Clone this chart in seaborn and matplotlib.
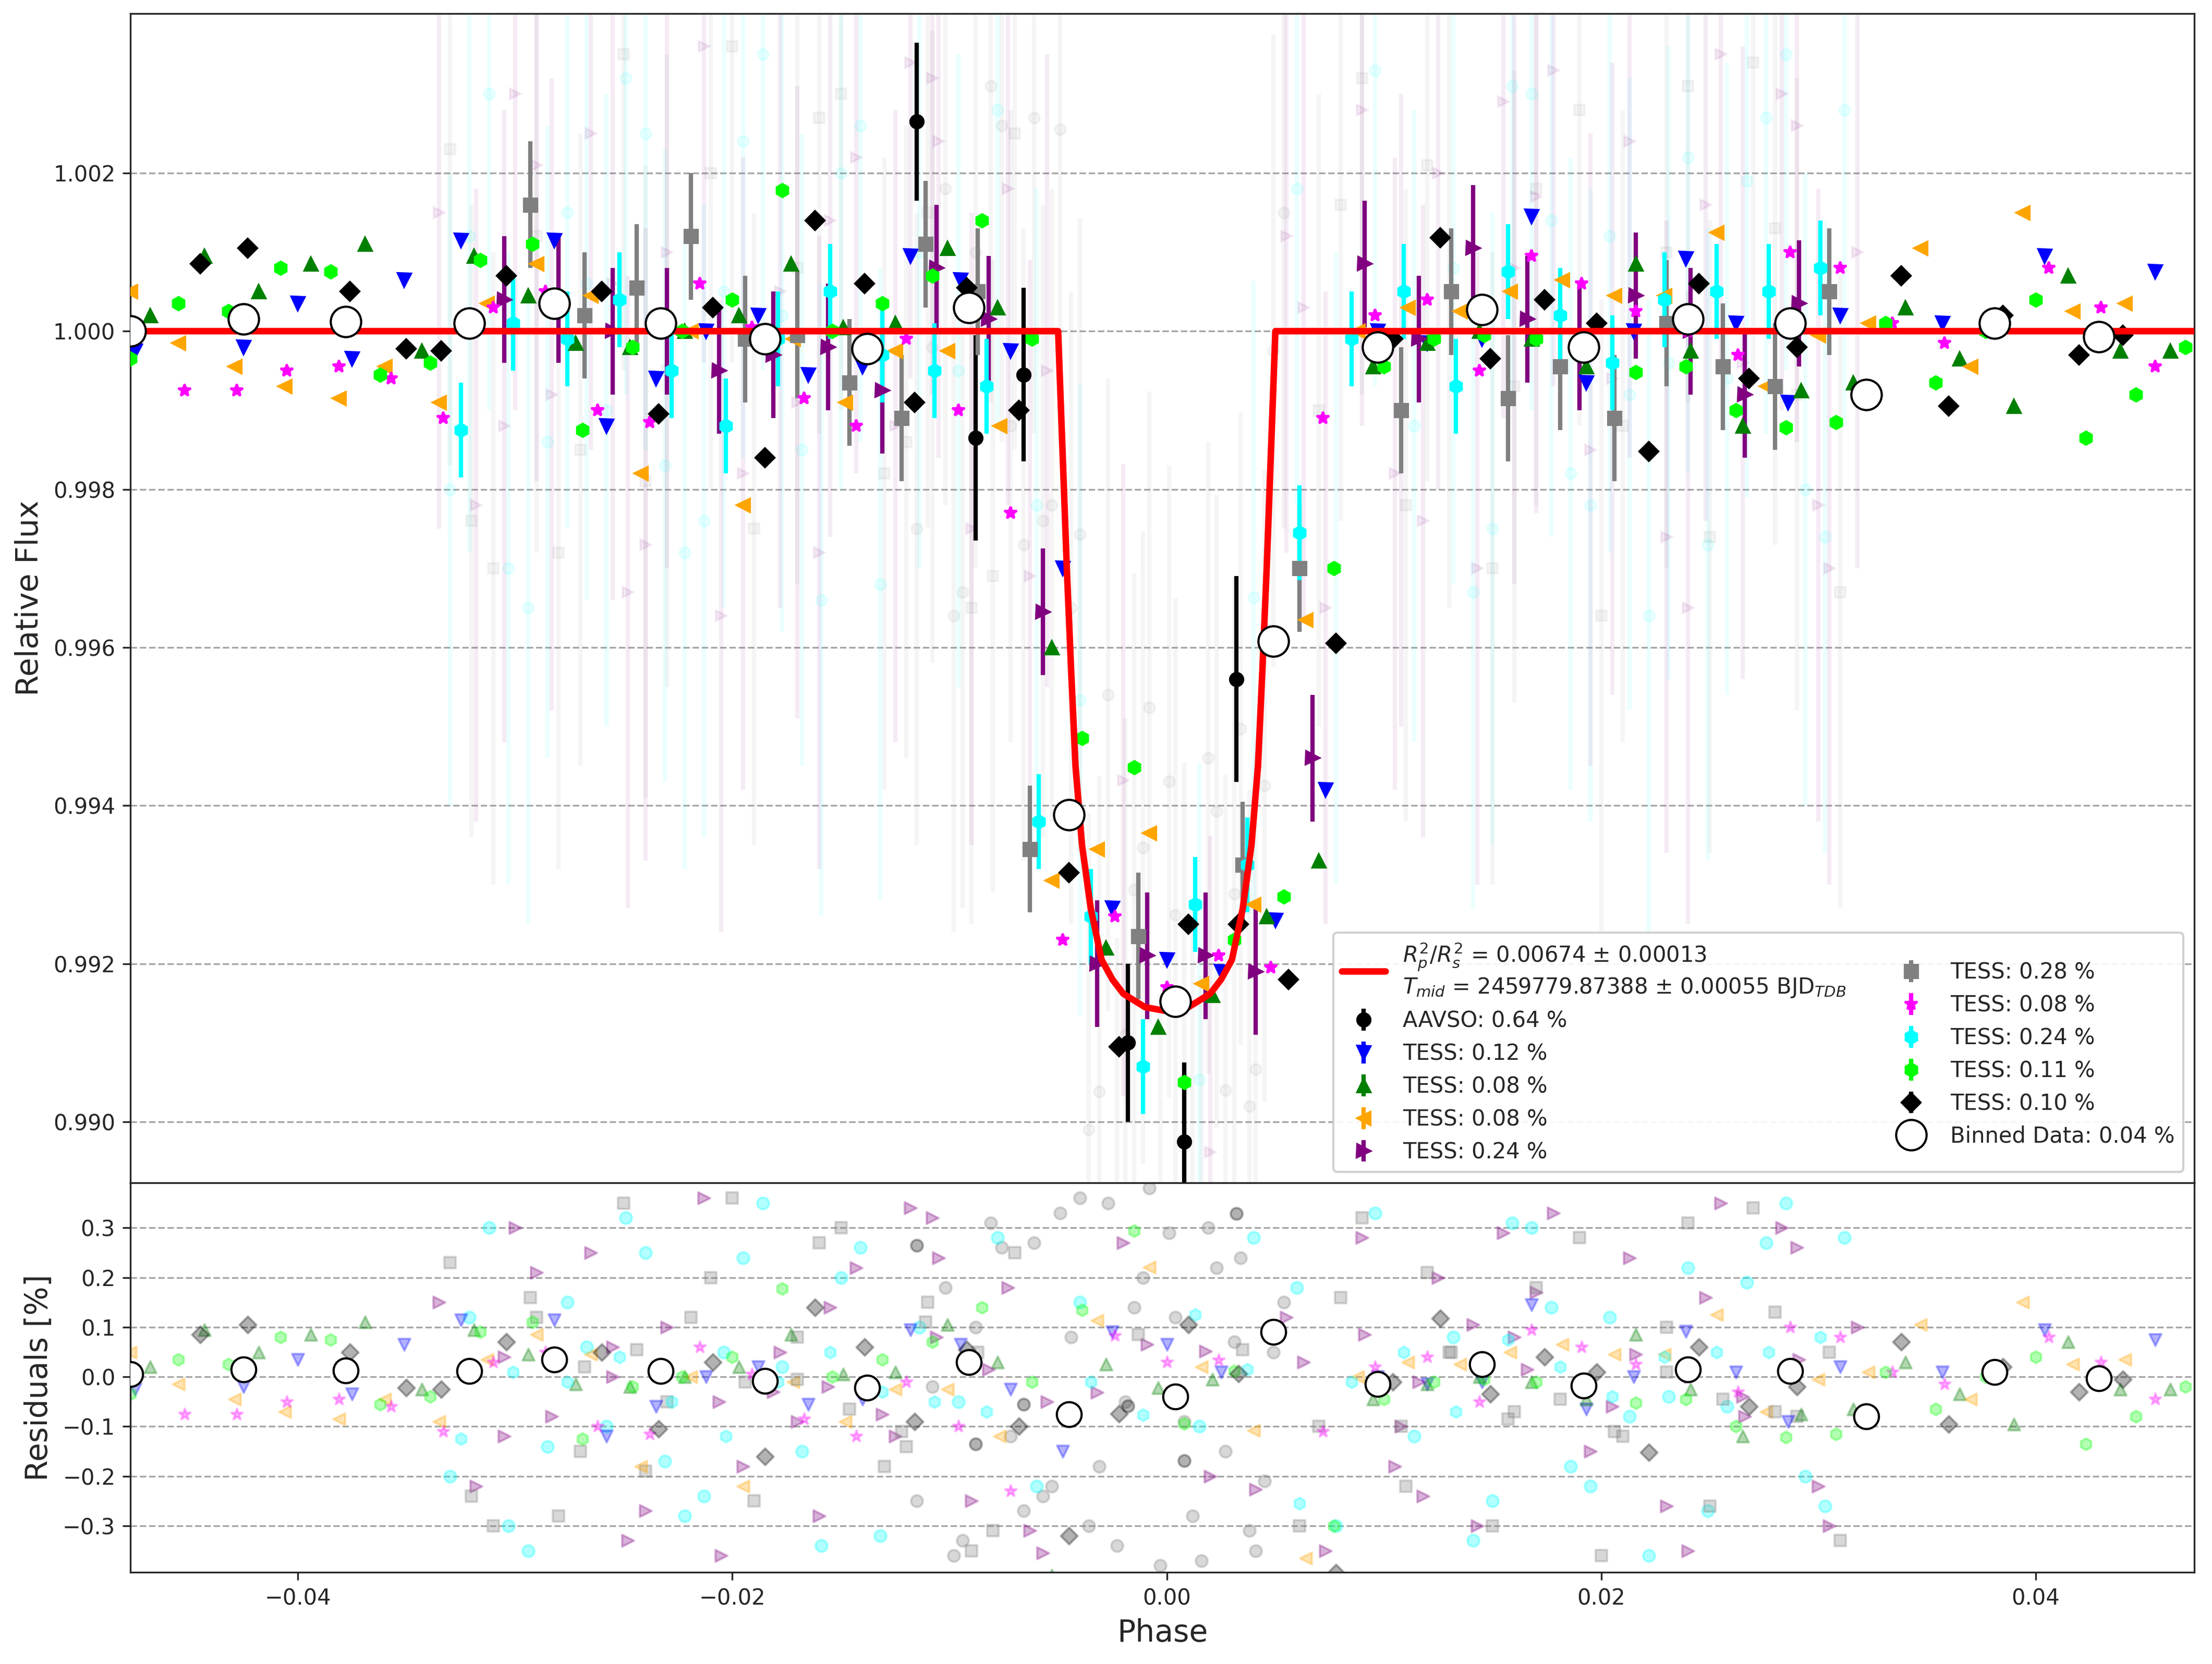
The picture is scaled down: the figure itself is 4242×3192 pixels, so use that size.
import numpy as np
import pandas as pd
import matplotlib.pyplot as plt
import seaborn as sns

# transit model
model_phase = [-0.048, -0.0050, -0.0048, -0.0046, -0.0044, -0.0042, -0.0039, -0.0035,
               -0.0030, -0.0025, -0.0020, -0.0010, 0.0, 0.0010, 0.0020, 0.0025, 0.0030,
               0.0035, 0.0039, 0.0042, 0.0044, 0.0046, 0.0048, 0.0050, 0.048]
model_flux = [1.0, 1.0, 0.9985, 0.9970, 0.9957, 0.9945, 0.9935, 0.9927,
              0.99205, 0.9918, 0.99162, 0.99145, 0.9914, 0.99145, 0.99162, 0.9918, 0.99205,
              0.9927, 0.9935, 0.9945, 0.9957, 0.9970, 0.9985, 1.0, 1.0]

binned_x = [-0.0477, -0.0425, -0.0378, -0.0321, -0.0282, -0.0233, -0.0185, -0.0138, -0.0091, -0.0045,
            0.0004, 0.0049, 0.0097, 0.0145, 0.0192, 0.0240, 0.0287, 0.0322, 0.0381, 0.0429]
binned_y = [1.0000, 1.00015, 1.00012, 1.0001, 1.00035, 1.0001, 0.9999, 0.99978, 1.0003, 0.99388,
            0.99152, 0.99608, 0.9998, 1.00027, 0.9998, 1.00015, 1.0001, 0.9992, 1.0001, 0.99993]
binned_res = [0.005, 0.015, 0.013, 0.012, 0.035, 0.012, -0.008, -0.022, 0.030, -0.075,
              -0.040, 0.090, -0.015, 0.025, -0.018, 0.015, 0.012, -0.080, 0.010, -0.003]

aavso_x = [-0.0115, -0.0088, -0.0066, -0.0018, 0.0008, 0.0032]
aavso_y = [1.00265, 0.99865, 0.99945, 0.9910, 0.98975, 0.9956]
aavso_e = [0.0010, 0.0013, 0.0011, 0.0010, 0.0010, 0.0013]

blue_x = [-0.0475, -0.0425, -0.0400, -0.0375, -0.0351, -0.0325, -0.0282, -0.0258, -0.0235, -0.0212,
          -0.0188, -0.0165, -0.0140, -0.0118, -0.0095, -0.0072, -0.0048, -0.0025, 0.0, 0.0025,
          0.0050, 0.0073, 0.0097, 0.0120, 0.0145, 0.0168, 0.0193, 0.0215, 0.0239, 0.0262,
          0.0286, 0.0310, 0.0357, 0.0404, 0.0455]
blue_y = [0.99975, 0.9998, 1.00035, 0.99965, 1.00065, 1.00115, 1.00115, 0.9988, 0.9994, 1.0,
          1.0002, 0.99945, 0.99955, 1.00095, 1.00065, 0.99975, 0.9970, 0.9927, 0.99205, 0.9919,
          0.99255, 0.9942, 1.0, 0.99985, 0.9999, 1.00145, 0.99935, 1.0, 1.00092, 1.0001,
          0.9991, 1.0002, 1.0001, 1.00095, 1.00075]

green_x = [-0.0468, -0.0443, -0.0418, -0.0394, -0.0369, -0.0343, -0.0319, -0.0294, -0.0272, -0.0247,
           -0.0222, -0.0197, -0.0173, -0.0149, -0.0125, -0.0101, -0.0078, -0.0053, -0.0028, -0.0004,
           0.0021, 0.0046, 0.0070, 0.0095, 0.0120, 0.0144, 0.0168, 0.0193, 0.0216, 0.0241,
           0.0265, 0.0292, 0.0316, 0.0340, 0.0365, 0.0390, 0.0415, 0.0439, 0.0462]
green_y = [1.0002, 1.00095, 1.0005, 1.00085, 1.0011, 0.99975, 1.00095, 1.00045, 0.99985, 0.9998,
           1.0, 1.0002, 1.00085, 1.00005, 1.0001, 1.00105, 1.0003, 0.9960, 0.9922, 0.9912,
           0.9916, 0.9926, 0.9933, 0.99955, 0.99985, 1.0, 0.9999, 0.99955, 1.00085, 0.99975,
           0.9988, 0.99925, 0.99935, 1.0003, 0.99965, 0.99905, 1.0007, 0.99975, 0.99975]

orange_x = [-0.0477, -0.0455, -0.0429, -0.0406, -0.0381, -0.0360, -0.0335, -0.0313, -0.0290, -0.0265,
            -0.0242, -0.0219, -0.0195, -0.0172, -0.0148, -0.0125, -0.0101, -0.0077, -0.0053, -0.0032,
            -0.0008, 0.0016, 0.0040, 0.0064, 0.0088, 0.0111, 0.0135, 0.0158, 0.0182, 0.0206,
            0.0229, 0.0253, 0.0276, 0.0300, 0.0323, 0.0347, 0.0370, 0.0394, 0.0417, 0.0441]
orange_y = [1.0005, 0.99985, 0.99955, 0.9993, 0.99915, 0.99955, 0.9991, 1.00035, 1.00085, 1.00045,
            0.9982, 1.0, 0.9978, 0.9999, 0.9991, 0.99975, 0.99975, 0.9988, 0.99305, 0.99345,
            0.99365, 0.99175, 0.99275, 0.99635, 1.0, 1.0003, 1.00025, 1.0005, 1.00065, 1.00045,
            1.00045, 1.00125, 0.9993, 0.99995, 1.0001, 1.00105, 0.99955, 1.0015, 1.00025, 1.00035]

purple_x = [-0.0305, -0.0280, -0.0255, -0.0230, -0.0206, -0.0181, -0.0156, -0.0131, -0.0106, -0.0082,
            -0.0057, -0.0032, -0.0009, 0.0018, 0.0041, 0.0067, 0.0091, 0.0116, 0.0141, 0.0166,
            0.0190, 0.0216, 0.0241, 0.0266, 0.0291]
purple_y = [1.0004, 1.0004, 1.0, 1.0, 0.9995, 0.9997, 0.9998, 0.99925, 1.0008, 1.00015,
            0.99645, 0.9920, 0.9921, 0.9921, 0.9919, 0.9946, 1.00085, 0.9999, 1.00105, 1.00015,
            0.9998, 1.00045, 1.0, 0.9992, 1.00035]

gray_x = [-0.0293, -0.0268, -0.0244, -0.0219, -0.0194, -0.0170, -0.0146, -0.0122, -0.0111, -0.0087,
          -0.0063, -0.0013, 0.0035, 0.0061, 0.0108, 0.0131, 0.0157, 0.0181, 0.0206, 0.0230,
          0.0256, 0.0280, 0.0305]
gray_y = [1.0016, 1.0002, 1.00055, 1.0012, 0.9999, 0.99995, 0.99935, 0.9989, 1.0011, 1.0005,
          0.99345, 0.99235, 0.99325, 0.9970, 0.9990, 1.0005, 0.99915, 0.99955, 0.9989, 1.0001,
          0.99955, 0.9993, 1.0005]

magenta_x = [-0.0452, -0.0428, -0.0405, -0.0381, -0.0357, -0.0333, -0.0310, -0.0286, -0.0262, -0.0238,
             -0.0215, -0.0191, -0.0167, -0.0143, -0.0120, -0.0096, -0.0072, -0.0048, -0.0024, 0.0,
             0.0024, 0.0048, 0.0072, 0.0096, 0.0120, 0.0144, 0.0168, 0.0191, 0.0216, 0.0240,
             0.0263, 0.0287, 0.0310, 0.0334, 0.0358, 0.0382, 0.0406, 0.0430, 0.0455]
magenta_y = [0.99925, 0.99925, 0.9995, 0.99955, 0.9994, 0.9989, 1.0003, 1.0005, 0.9990, 0.99885,
             1.0006, 1.00005, 0.99915, 0.9988, 0.9999, 0.9990, 0.9977, 0.9923, 0.9926, 0.9917,
             0.9921, 0.99195, 0.9989, 1.0002, 1.0004, 0.9995, 1.00095, 1.0006, 1.00025, 1.0,
             0.9997, 1.0010, 1.0008, 1.0001, 0.99985, 1.0002, 1.0008, 1.0003, 0.99955]

cyan_x = [-0.0325, -0.0301, -0.0276, -0.0252, -0.0228, -0.0203, -0.0179, -0.0155, -0.0131, -0.0107,
          -0.0083, -0.0059, -0.0035, -0.0011, 0.0013, 0.0037, 0.0061, 0.0085, 0.0109, 0.0133,
          0.0157, 0.0181, 0.0205, 0.0229, 0.0253, 0.0277, 0.0301]
cyan_y = [0.99875, 1.0001, 0.9999, 1.0004, 0.9995, 0.9988, 0.9999, 1.0005, 0.9997, 0.9995,
          0.9993, 0.9938, 0.9926, 0.9907, 0.99275, 0.99325, 0.99745, 0.9999, 1.0005, 0.9993,
          1.00075, 1.0002, 0.9996, 1.0004, 1.0005, 1.0005, 1.0008]

lime_x = [-0.0477, -0.0455, -0.0432, -0.0408, -0.0385, -0.0362, -0.0339, -0.0316, -0.0292, -0.0269,
          -0.0246, -0.0223, -0.0200, -0.0177, -0.0154, -0.0131, -0.0108, -0.0085, -0.0062, -0.0039,
          -0.0015, 0.0008, 0.0031, 0.0054, 0.0077, 0.0100, 0.0123, 0.0146, 0.0170, 0.0193,
          0.0216, 0.0239, 0.0262, 0.0285, 0.0308, 0.0331, 0.0354, 0.0377, 0.0400, 0.0423,
          0.0446, 0.0469]
lime_y = [0.99965, 1.00035, 1.00025, 1.0008, 1.00075, 0.99945, 0.9996, 1.0009, 1.0011, 0.99875,
          0.9998, 1.0, 1.0004, 1.00178, 1.0, 1.00035, 1.0007, 1.0014, 0.9999, 0.99485,
          0.99448, 0.9905, 0.9923, 0.99285, 0.9970, 0.99955, 0.9999, 0.99995, 0.9999, 0.9998,
          0.99948, 0.99955, 0.9990, 0.99878, 0.99885, 1.0001, 0.99935, 1.0, 1.0004, 0.99865,
          0.9992, 0.9998]

black_x = [-0.0445, -0.0423, -0.0376, -0.0350, -0.0334, -0.0304, -0.0260, -0.0234, -0.0209, -0.0185,
           -0.0162, -0.0139, -0.0116, -0.0092, -0.0068, -0.0045, -0.0022, 0.0010, 0.0033, 0.0056,
           0.0078, 0.0104, 0.0126, 0.0149, 0.0174, 0.0198, 0.0222, 0.0245, 0.0268, 0.0290,
           0.0338, 0.0360, 0.0385, 0.0420, 0.0440]
black_y = [1.00085, 1.00105, 1.0005, 0.99978, 0.99975, 1.0007, 1.0005, 0.99895, 1.0003, 0.9984,
           1.0014, 1.0006, 0.9991, 1.00055, 0.9990, 0.99315, 0.99095, 0.9925, 0.9925, 0.9918,
           0.99605, 0.9999, 1.00118, 0.99965, 1.0004, 1.0001, 0.99848, 1.0006, 0.9994, 0.9998,
           1.0007, 0.99905, 1.0002, 0.9997, 0.99995]

# faint unbinned points (phase, residual in %)
raw_gray_x = [-0.0115, -0.0102, -0.0094, -0.0081, -0.0072, -0.0061, -0.0053, -0.0044, -0.0036, -0.0027,
              -0.0019, -0.0011, -0.0003, 0.0004, 0.0012, 0.0019, 0.0027, 0.0034, 0.0041, 0.0049,
              -0.0088, -0.0066, -0.0049, -0.0031, -0.0008, 0.0008, 0.0023, 0.0038, 0.0054, -0.0108,
              -0.0098, -0.0076, -0.0057, -0.0040, -0.0023, -0.0015, 0.0001, 0.0016, 0.0031, 0.0045]
raw_gray_r = [-0.25, 0.18, -0.33, 0.31, -0.12, 0.27, -0.22, 0.08, -0.30, 0.35,
              -0.05, 0.20, -0.38, 0.12, -0.28, 0.30, -0.15, 0.24, -0.35, 0.05,
              0.10, -0.27, 0.33, -0.18, 0.38, -0.09, 0.22, -0.31, 0.15, -0.02,
              -0.36, 0.26, -0.24, 0.36, -0.34, 0.14, 0.29, -0.37, 0.07, -0.21]
raw_cyan_x = [-0.0330, -0.0312, -0.0294, -0.0276, -0.0258, -0.0240, -0.0222, -0.0204, -0.0186, -0.0168,
              -0.0150, -0.0132, -0.0114, -0.0096, -0.0078, -0.0060, 0.0060, 0.0078, 0.0096, 0.0114,
              0.0132, 0.0150, 0.0168, 0.0186, 0.0204, 0.0222, 0.0240, 0.0258, 0.0276, 0.0294,
              0.0312, -0.0321, -0.0285, -0.0249, -0.0213, -0.0177, -0.0141, 0.0141, 0.0177, 0.0213,
              0.0249, 0.0285, -0.0040, 0.0015, 0.0040, -0.0303, -0.0267, -0.0231, -0.0195, -0.0159,
              0.0159, 0.0195, 0.0231, 0.0267, 0.0303]
raw_cyan_r = [-0.20, 0.30, -0.35, 0.15, -0.10, 0.25, -0.28, 0.05, 0.35, -0.15,
              0.20, -0.32, 0.10, -0.05, 0.28, -0.22, 0.18, -0.30, 0.33, -0.12,
              0.08, -0.25, 0.30, -0.18, 0.12, -0.36, 0.22, -0.06, 0.27, -0.20,
              0.28, 0.12, -0.14, 0.32, -0.24, 0.02, 0.26, -0.33, 0.14, -0.08,
              -0.27, 0.35, 0.15, -0.10, 0.28, -0.30, 0.06, -0.17, 0.24, -0.34,
              0.31, -0.22, -0.04, 0.19, -0.26]
raw_purple_x = [-0.0335, -0.0318, -0.0300, -0.0283, -0.0265, -0.0248, -0.0230, -0.0213, -0.0195, -0.0178,
                -0.0160, -0.0143, -0.0125, -0.0108, -0.0090, -0.0073, -0.0055, -0.0020, 0.0020, 0.0055,
                0.0073, 0.0090, 0.0108, 0.0125, 0.0143, 0.0160, 0.0178, 0.0195, 0.0213, 0.0230,
                0.0248, 0.0265, 0.0283, 0.0300, 0.0318, -0.0305, -0.0255, -0.0205, -0.0155, -0.0105,
                0.0105, 0.0155, 0.0205, 0.0255, 0.0305, -0.0290, -0.0240, -0.0170, -0.0118, -0.0063,
                0.0063, 0.0118, 0.0170, 0.0240, 0.0290]
raw_purple_r = [0.15, -0.22, 0.30, -0.08, 0.25, -0.33, 0.10, 0.36, -0.18, 0.05,
                -0.28, 0.22, -0.12, 0.32, -0.25, 0.18, -0.05, 0.27, -0.20, 0.12,
                -0.35, 0.28, -0.10, 0.20, -0.30, 0.08, 0.33, -0.15, 0.24, -0.26,
                0.16, -0.04, 0.30, -0.22, 0.10, -0.12, 0.06, -0.36, 0.14, 0.24,
                -0.18, 0.29, -0.06, 0.35, -0.30, 0.21, -0.27, -0.09, 0.34, -0.31,
                0.03, -0.24, 0.17, -0.35, 0.26]
raw_square_x = [-0.0330, -0.0310, -0.0290, -0.0270, -0.0250, -0.0230, -0.0210, -0.0190, -0.0170, -0.0150,
                -0.0130, -0.0110, -0.0090, -0.0070, 0.0070, 0.0090, 0.0110, 0.0130, 0.0150, 0.0170,
                0.0190, 0.0210, 0.0230, 0.0250, 0.0270, 0.0290, 0.0310, -0.0280, -0.0200, -0.0120,
                0.0120, 0.0200, 0.0280, -0.0320, -0.0240, -0.0160, -0.0080, 0.0080, 0.0160, 0.0240]
raw_square_r = [0.23, -0.30, 0.12, -0.15, 0.35, -0.05, 0.20, -0.25, 0.08, 0.30,
                -0.18, 0.15, -0.35, 0.25, -0.10, 0.32, -0.22, 0.05, -0.30, 0.18,
                0.28, -0.12, 0.10, -0.26, 0.34, -0.08, -0.33, -0.28, 0.36, -0.14,
                0.21, -0.36, 0.13, -0.24, -0.19, 0.27, -0.31, 0.16, -0.07, 0.31]

mx, my = np.array(model_phase), np.array(model_flux)
def resid(x, y):
    return (np.array(y) - np.interp(x, mx, my)) * 100

sns.set_style("ticks")
fig, (ax, axr) = plt.subplots(2, 1, figsize=(14.14, 10.64), dpi=300, sharex=True,
                              gridspec_kw={"height_ratios": [3, 1], "hspace": 0})
fig.subplots_adjust(left=0.059, right=0.992, top=0.992, bottom=0.055)

# faint raw data
faint = [(raw_gray_x, raw_gray_r, "o", "gray"), (raw_cyan_x, raw_cyan_r, "o", "cyan"),
         (raw_purple_x, raw_purple_r, ">", "purple"), (raw_square_x, raw_square_r, "s", "gray")]
for fx, fr, mk, c in faint:
    fx = np.array(fx)
    fy = np.interp(fx, mx, my) + np.array(fr) / 100
    ax.errorbar(fx, fy, yerr=0.004, fmt=mk, color=c, alpha=0.08, ms=5, elinewidth=2, zorder=1)
    axr.scatter(fx, fr, marker=mk, color=c, alpha=0.3, s=30, zorder=1)

series = [
    (aavso_x, aavso_y, aavso_e, "o", "black", "AAVSO: 0.64 %"),
    (blue_x, blue_y, None, "v", "blue", "TESS: 0.12 %"),
    (green_x, green_y, None, "^", "green", "TESS: 0.08 %"),
    (orange_x, orange_y, None, "<", "orange", "TESS: 0.08 %"),
    (purple_x, purple_y, 0.0008, ">", "purple", "TESS: 0.24 %"),
    (gray_x, gray_y, 0.0008, "s", "gray", "TESS: 0.28 %"),
    (magenta_x, magenta_y, None, "*", "magenta", "TESS: 0.08 %"),
    (cyan_x, cyan_y, 0.0006, "h", "cyan", "TESS: 0.24 %"),
    (lime_x, lime_y, None, "h", "lime", "TESS: 0.11 %"),
    (black_x, black_y, None, "D", "black", "TESS: 0.10 %"),
]

sns.lineplot(x=model_phase, y=model_flux, ax=ax, color="red", lw=3, zorder=5,
             label=r"$R_{p}^{2}/R_{s}^{2}$ = 0.00674 $\pm$ 0.00013" + "\n" +
                   r"$T_{mid}$ = 2459779.87388 $\pm$ 0.00055 BJD$_{TDB}$")
for sx, sy, se, mk, c, lab in series:
    ax.errorbar(sx, sy, yerr=se if se is not None else 0.0, fmt=mk, color=c, ms=6,
                elinewidth=2, label=lab, zorder=4)
    axr.scatter(sx, resid(sx, sy), marker=mk, color=c, alpha=0.3, s=30, zorder=2)

ax.plot(binned_x, binned_y, "o", mfc="white", mec="black", ms=14, label="Binned Data: 0.04 %", zorder=6)
sns.scatterplot(x=binned_x, y=binned_res, ax=axr, color="white",
                edgecolor="black", s=130, linewidth=1, zorder=6)

ax.set_xlim(-0.0477, 0.0473)
ax.set_ylim(0.98923, 1.00402)
axr.set_ylim(-0.394, 0.391)
ax.set_yticks([0.990, 0.992, 0.994, 0.996, 0.998, 1.000, 1.002])
ax.set_yticklabels([f"{v:.3f}" for v in ax.get_yticks()])
axr.set_yticks([-0.3, -0.2, -0.1, 0.0, 0.1, 0.2, 0.3])
axr.set_xticks([-0.04, -0.02, 0.0, 0.02, 0.04])
for a in (ax, axr):
    a.grid(axis="y", ls="--", color="gray", alpha=0.7)
    a.tick_params(labelsize=10)
ax.set_ylabel("Relative Flux", fontsize=14)
axr.set_ylabel("Residuals [%]", fontsize=14)
axr.set_xlabel("Phase", fontsize=14)

handles, labels = ax.get_legend_handles_labels()
bi = labels.index("Binned Data: 0.04 %")
handles.append(handles.pop(bi))
labels.append(labels.pop(bi))
ax.legend(handles, labels, loc="lower right", ncol=2, fontsize=10, framealpha=0.9)

fig.savefig("out.png", dpi=300)
